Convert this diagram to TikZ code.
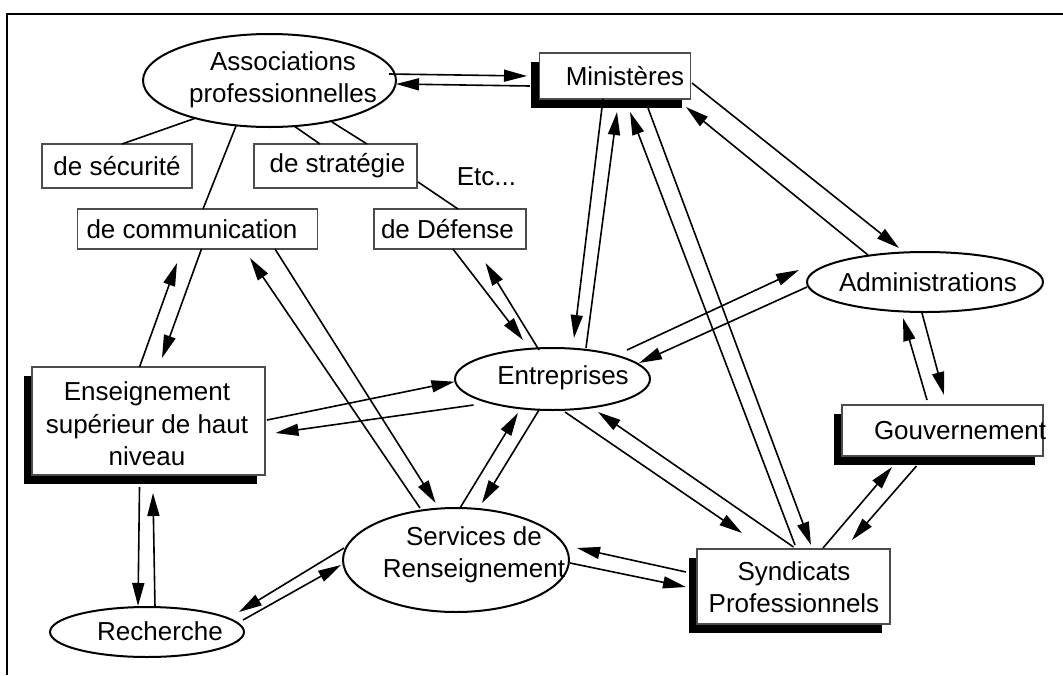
\documentclass[tikz,border=0pt]{standalone}
\usepackage{fontspec}
\setmainfont{Liberation Sans}
\usetikzlibrary{shapes.geometric,arrows.meta,calc,shadows}
\begin{document}
\begin{tikzpicture}[x=1pt,y=-1pt,
  font=\fontsize{26}{32.5}\selectfont,
  ell/.style={ellipse,draw,line width=2pt,inner sep=0pt,fill=white},
  sbox/.style={rectangle,draw=black!70,line width=1.1pt,inner sep=0pt,fill=white},
  shbox/.style={sbox,general shadow={fill=black,shadow xshift=-8.5pt,shadow yshift=-8.5pt}},
  txt/.style={inner sep=0pt,align=center},
  arr/.style={line width=1.6pt,-{Triangle[length=23pt,width=12pt]}},
  lnk/.style={line width=1.6pt}]
\useasboundingbox (0,0) rectangle (1063,675);
% frame
\draw[line width=2.6pt] (7,675) -- (7,14) -- (1063,14);
% nodes
\node[ell,minimum width=253pt,minimum height=93pt] (asso) at (269.5,80.5) {};
\node[shbox,minimum width=151pt,minimum height=46pt] (min) at (615,76) {};
\node[sbox,minimum width=150pt,minimum height=44pt] (secu) at (117,166) {};
\node[sbox,minimum width=163pt,minimum height=44pt] (strat) at (335.5,166) {};
\node[txt] (etc) at (486.5,177) {Etc...};
\node[sbox,minimum width=240pt,minimum height=40pt] (comm) at (197.5,229) {};
\node[sbox,minimum width=152pt,minimum height=40pt] (def) at (450,229) {};
\node[ell,minimum width=236pt,minimum height=60pt] (adm) at (925,282) {};
\node[ell,minimum width=195pt,minimum height=62pt] (ent) at (552.5,379) {};
\node[shbox,minimum width=233pt,minimum height=108pt] (ens) at (148.5,421) {};
\node[shbox,minimum width=201pt,minimum height=51pt] (gouv) at (942.5,430.5) {};
\node[ell,minimum width=226pt,minimum height=104pt] (serv) at (456,560) {};
\node[shbox,minimum width=193pt,minimum height=75pt] (synd) at (793.5,586.5) {};
\node[ell,minimum width=194pt,minimum height=50pt] (rech) at (147,632) {};
% texts
\node[txt] (assoT) at ($(asso)+(13.5,-0.5)$) {Associations\\professionnelles};
\node[txt] (minT) at ($(min)+(10,0)$) {Ministères};
\node[txt] (secuT) at (secu) {de sécurité};
\node[txt] (stratT) at ($(strat)+(2,0)$) {de stratégie};
\node[txt] (commT) at ($(comm)+(-5.5,0)$) {de communication};
\node[txt] (defT) at ($(def)+(-2.5,0)$) {de Défense};
\node[txt] (admT) at ($(adm)+(3,0)$) {Administrations};
\node[txt] (entT) at ($(ent)+(10.5,-1)$) {Entreprises};
\node[txt] (ensT) at ($(ens)+(-1.5,3)$) {Enseignement\\supérieur de haut\\niveau};
\node[txt] (gouvT) at ($(gouv)+(17.5,0)$) {Gouvernement};
\node[txt] (servT) at ($(serv)+(18,-5)$) {Services de\\Renseignement};
\node[txt] (syndT) at ($(synd)+(0.5,0.5)$) {Syndicats\\Professionnels};
\node[txt] (rechT) at ($(rech)+(13,-1)$) {Recherche};
% plain links
\draw[lnk] ($(asso)+(-73.5,37.5)$) -- ($(secu)+(5,-22)$);
\draw[lnk] ($(asso)+(-33.5,45.5)$) -- ($(comm)+(5.5,-20)$);
\draw[lnk] ($(asso)+(24.5,45.5)$) -- ($(strat)+(-15.5,-22)$);
\draw[lnk] ($(asso)+(62.5,41.5)$) -- ($(strat)+(31.5,-22)$);
\draw[lnk] ($(strat)+(82.5,16)$) -- ($(def)+(8,-20)$);
% arrows
\draw[arr] ($(asso)+(119.5,-6.5)$) -- ($(min)+(-88,0)$);
\draw[arr] ($(min)+(-85,10)$) -- ($(asso)+(126.5,3.5)$);
\draw[arr] ($(ens)+(-9,-54)$) -- ($(comm)+(-20.5,34)$);
\draw[arr] ($(comm)+(4,20)$) -- ($(ens)+(13.5,-63)$);
\draw[arr] ($(serv)+(-36,-52)$) -- ($(comm)+(52.5,29)$);
\draw[arr] ($(comm)+(77.5,20)$) -- ($(serv)+(-20.4,-57)$);
\draw[arr] ($(def)+(3,20)$) -- ($(ent)+(-29.5,-39)$);
\draw[arr] ($(ent)+(-13.5,-29)$) -- ($(def)+(35.5,34)$);
\draw[arr] ($(ens)+(118.5,-1)$) -- ($(ent)+(-98,2.7)$);
\draw[arr] ($(ent)+(-79,26)$) -- ($(ens)+(127,12)$);
\draw[arr] ($(serv)+(4,-52)$) -- ($(ent)+(-34.5,34)$);
\draw[arr] ($(ent)+(-13.5,31)$) -- ($(serv)+(26,-57)$);
\draw[arr] ($(ens)+(-9,66)$) -- ($(rech)+(-9,-26)$);
\draw[arr] ($(rech)+(8,-25)$) -- ($(ens)+(4.5,72)$);
\draw[arr] ($(serv)+(-112,-12)$) -- ($(rech)+(92,-20)$);
\draw[arr] ($(rech)+(96,-12)$) -- ($(serv)+(-115,5)$);
\draw[arr] ($(min)+(-12,23)$) -- ($(ent)+(21.5,-41)$);
\draw[arr] ($(ent)+(33.5,-31)$) -- ($(min)+(2,36)$);
\draw[arr] ($(synd)+(1.5,-41.5)$) -- ($(min)+(15,36)$);
\draw[arr] ($(min)+(33,32)$) -- ($(synd)+(17.5,-41.5)$);
\draw[arr] ($(min)+(77,7)$) -- ($(adm)+(-26,-34)$);
\draw[arr] ($(adm)+(-57,-27)$) -- ($(min)+(71,31)$);
\draw[arr] ($(ent)+(74.5,-29)$) -- ($(adm)+(-126,-12)$);
\draw[arr] ($(adm)+(-118,5)$) -- ($(ent)+(86.5,-16)$);
\draw[arr] ($(adm)+(-3,31)$) -- ($(gouv)+(1.5,-35.5)$);
\draw[arr] ($(gouv)+(-15.5,-30.5)$) -- ($(adm)+(-22,36)$);
\draw[arr] ($(ent)+(12.5,33)$) -- ($(synd)+(-51.5,-53.5)$);
\draw[arr] ($(synd)+(0,-39.5)$) -- ($(ent)+(45.5,33)$);
\draw[arr] ($(synd)+(29.5,-38.5)$) -- ($(gouv)+(-50.5,36.5)$);
\draw[arr] ($(gouv)+(-26,35.5)$) -- ($(synd)+(58.5,-46.5)$);
\draw[arr] ($(serv)+(114,3)$) -- ($(synd)+(-107.5,0.5)$);
\draw[arr] ($(synd)+(-107.5,-14.5)$) -- ($(serv)+(121,-12)$);
\end{tikzpicture}
\end{document}
